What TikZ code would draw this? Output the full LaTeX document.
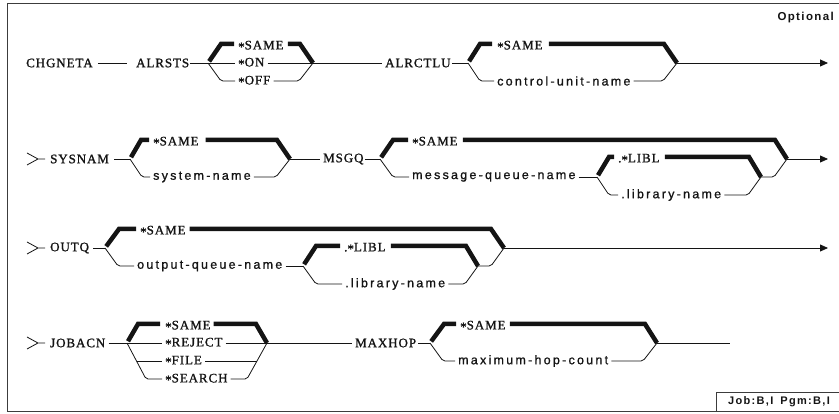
\documentclass[tikz,border=0pt]{standalone}
\usepackage{fontspec}
\usetikzlibrary{arrows.meta,calc}
\newfontfamily\kwfont[LetterSpace=7,FakeBold=1.2]{Liberation Serif}
\newfontfamily\valfont[LetterSpace=18,FakeBold=1]{Liberation Sans}
\newfontfamily\notefont[LetterSpace=12]{Liberation Sans}
\definecolor{inkblack}{RGB}{20,20,20}
\definecolor{framegray}{RGB}{60,60,60}
\newcommand{\kwstar}{\raisebox{-0.3ex}{*}}
\tikzset{
    % keywords: command, parameters, special values
    kw/.style={anchor=west, inner sep=0pt, text=inkblack,
        font=\kwfont\fontsize{13}{15}\selectfont},
    % user supplied values
    val/.style={anchor=west, inner sep=0pt, text=inkblack,
        font=\valfont\fontsize{12.5}{14}\selectfont},
    % notes in the corners
    note/.style={inner sep=0pt, text=inkblack,
        font=\notefont\bfseries\fontsize{11.5}{13}\selectfont},
    % paths of the diagram
    thinline/.style={line width=0.8pt, draw=inkblack, rounded corners=2pt},
    defline/.style={line width=4.5pt, draw=inkblack, line join=miter},
    endarrow/.style={line width=0.8pt, draw=inkblack, -{Triangle[length=8pt,width=7pt]}},
    contmark/.style={line width=0.8pt, draw=inkblack},
    framed/.style={line width=0.9pt, draw=framegray},
}

\begin{document}
\begin{tikzpicture}[x=1pt,y=-1pt]
  \useasboundingbox (0,0) rectangle (839,414);
  % frame
  \draw[framed] (842,3) -- (7,3) -- (7,411) -- (842,411);
  \node[note,anchor=east] (optional) at (834,18) {Optional};

  % ---- first line: CHGNETA ALRSTS ALRCTLU
  \node[kw] (chgneta) at (26,63) {CHGNETA};
  \node[kw] (alrsts) at (136,63) {ALRSTS};
  \draw[thinline] ([xshift=5pt]chgneta.east) -- ([xshift=-9pt]alrsts.west);
  \coordinate (s1) at (208,63);
  \coordinate (j1) at (313,63);
  \node[kw] (stsame) at (238,46) {\kwstar SAME};
  \node[kw] (ston) at (238,63) {\kwstar ON};
  \node[kw] (stoff) at (238,81) {\kwstar OFF};
  \draw[thinline] ([xshift=1pt]alrsts.east) -- (s1);
  \draw[defline] ($(s1)!2pt!(221,44)$) -- (221,44) -- ([shift={(-4pt,2pt)}]stsame.west);
  \draw[thinline] (s1) -- ([xshift=-3pt]ston.west);
  \draw[thinline] (s1) -- (221,81) -- ([xshift=-3pt]stoff.west);
  \draw[defline] ([shift={(4pt,2pt)}]stsame.east) -- (300,44) -- (j1);
  \draw[thinline] ([xshift=3pt]ston.east) -- (j1);
  \draw[thinline] ([xshift=3pt]stoff.east) -- (299,81) -- (j1);

  \node[kw] (alrctlu) at (385,63) {ALRCTLU};
  \draw[thinline] (j1) -- ([xshift=-3pt]alrctlu.west);
  \coordinate (s2) at (468,63);
  \coordinate (j2) at (677,63);
  \node[kw] (cusame) at (497,46) {\kwstar SAME};
  \node[val] (cuname) at (497,81) {control-unit-name};
  \draw[thinline] ([xshift=1pt]alrctlu.east) -- (s2);
  \draw[defline] ($(s2)!2pt!(480,44)$) -- (480,44) -- ([shift={(-5pt,2pt)}]cusame.west);
  \draw[thinline] (s2) -- (480,81) -- ([xshift=-3pt]cuname.west);
  \draw[defline] ([shift={(6pt,2pt)}]cusame.east) -- (664,44) -- (j2);
  \draw[thinline] ([xshift=3pt]cuname.east) -- (663,81) -- (j2);
  \coordinate (e1) at (828,63);
  \draw[endarrow] (j2) -- (e1);

  % ---- second line: SYSNAM MSGQ
  \draw[contmark] (27,153) -- (38,159) -- (27,165) (38,159) -- (45,159);
  \node[kw] (sysnam) at (50,159) {SYSNAM};
  \coordinate (s3) at (130,159);
  \coordinate (j3) at (290,159);
  \node[kw] (sysame) at (153,142) {\kwstar SAME};
  \node[val] (syname) at (153,177) {system-name};
  \draw[thinline] ([xshift=5pt]sysnam.east) -- (s3);
  \draw[defline] ($(s3)!2pt!(141,140)$) -- (141,140) -- ([shift={(-4pt,2pt)}]sysame.west);
  \draw[thinline] (s3) -- (142,177) -- ([xshift=-3pt]syname.west);
  \draw[defline] ([shift={(7pt,2pt)}]sysame.east) -- (277,140) -- (j3);
  \draw[thinline] ([xshift=3pt]syname.east) -- (276,177) -- (j3);

  \node[kw] (msgq) at (323,159) {MSGQ};
  \draw[thinline] (j3) -- ([xshift=-3pt]msgq.west);
  \coordinate (s4) at (380,159);
  \coordinate (j4) at (787,159);
  \node[kw] (mqsame) at (412,142) {\kwstar SAME};
  \node[val] (mqname) at (412,177) {message-queue-name};
  \draw[thinline] ([xshift=1pt]msgq.east) -- (s4);
  \draw[defline] ($(s4)!2pt!(393,140)$) -- (393,140) -- ([shift={(-4pt,2pt)}]mqsame.west);
  \draw[thinline] (s4) -- (393,177) -- ([xshift=-3pt]mqname.west);
  \coordinate (s5) at (597,177);
  \coordinate (j5) at (761,177);
  \node[kw] (mqlibl) at (618,159) {.\kwstar LIBL};
  \node[val] (mqlib) at (621,195) {.library-name};
  \draw[thinline] ([xshift=3pt]mqname.east) -- (s5);
  \draw[defline] ($(s5)!2pt!(609,157)$) -- (609,157) -- ([shift={(-4pt,2pt)}]mqlibl.west);
  \draw[thinline] (s5) -- (609,195) -- ([xshift=-3pt]mqlib.west);
  \draw[defline] ([shift={(5pt,2pt)}]mqlibl.east) -- (749,157) -- (j5);
  \draw[thinline] ([xshift=3pt]mqlib.east) -- (748,195) -- (j5);
  \draw[defline] ([shift={(5pt,2pt)}]mqsame.east) -- (775,140) -- (j4);
  \draw[thinline] (j5) -- (774,177) -- (j4);
  \coordinate (e2) at (828,159);
  \draw[endarrow] (j4) -- (e2);

  % ---- third line: OUTQ
  \draw[contmark] (27,242) -- (38,248) -- (27,254) (38,248) -- (45,248);
  \node[kw] (outq) at (50,248) {OUTQ};
  \coordinate (s6) at (105,248);
  \coordinate (j6) at (504,248);
  \node[kw] (oqsame) at (140,231) {\kwstar SAME};
  \node[val] (oqname) at (137,266) {output-queue-name};
  \draw[thinline] ([xshift=4pt]outq.east) -- (s6);
  \draw[defline] ($(s6)!2pt!(119,229)$) -- (119,229) -- ([shift={(-4pt,2pt)}]oqsame.west);
  \draw[thinline] (s6) -- (118,266) -- ([xshift=-3pt]oqname.west);
  \coordinate (s7) at (303,266);
  \coordinate (j7) at (478,266);
  \node[kw] (oqlibl) at (344,248) {.\kwstar LIBL};
  \node[val] (oqlib) at (345,284) {.library-name};
  \draw[thinline] ([xshift=3pt]oqname.east) -- (s7);
  \draw[defline] ($(s7)!2pt!(316,246)$) -- (316,246) -- ([shift={(-4pt,2pt)}]oqlibl.west);
  \draw[thinline] (s7) -- (316,284) -- ([xshift=-3pt]oqlib.west);
  \draw[defline] ([shift={(5pt,2pt)}]oqlibl.east) -- (466,246) -- (j7);
  \draw[thinline] ([xshift=3pt]oqlib.east) -- (465,284) -- (j7);
  \draw[defline] ([shift={(4pt,2pt)}]oqsame.east) -- (491,229) -- (j6);
  \draw[thinline] (j7) -- (491,266) -- (j6);
  \coordinate (e3) at (828,248);
  \draw[endarrow] (j6) -- (e3);

  % ---- fourth line: JOBACN MAXHOP
  \draw[contmark] (27,337) -- (38,343) -- (27,349) (38,343) -- (45,343);
  \node[kw] (jobacn) at (50,343) {JOBACN};
  \coordinate (s8) at (127,343);
  \coordinate (j8) at (267,343);
  \node[kw] (jasame) at (165,326) {\kwstar SAME};
  \node[kw] (jareject) at (165,343) {\kwstar REJECT};
  \node[kw] (jafile) at (165,361) {\kwstar FILE};
  \node[kw] (jasearch) at (165,379) {\kwstar SEARCH};
  \draw[thinline] ([xshift=3pt]jobacn.east) -- (s8);
  \draw[defline] ($(s8)!2pt!(138,324)$) -- (138,324) -- ([shift={(-5pt,2pt)}]jasame.west);
  \draw[thinline] (s8) -- ([xshift=-3pt]jareject.west);
  \coordinate (s8l) at (146,379);
  \coordinate (j8l) at (247,379);
  \draw[thinline] (s8) -- (s8l) -- ([xshift=-3pt]jasearch.west);
  \draw[thinline] ($(s8)!0.5!(s8l)$) -- ([xshift=-3pt]jafile.west);
  \draw[defline] ([shift={(3pt,2pt)}]jasame.east) -- (256,324) -- (j8);
  \draw[thinline] ([xshift=3pt]jareject.east) -- (j8);
  \draw[thinline] ([xshift=3pt]jasearch.east) -- (j8l) -- (j8);
  \draw[thinline] ([xshift=3pt]jafile.east) -- ($(j8l)!0.5!(j8)$);

  \node[kw] (maxhop) at (355,343) {MAXHOP};
  \draw[thinline] (j8) -- ([xshift=-3pt]maxhop.west);
  \coordinate (s9) at (430,343);
  \coordinate (j9) at (657,343);
  \node[kw] (mhsame) at (460,326) {\kwstar SAME};
  \node[val] (mhcount) at (458,361) {maximum-hop-count};
  \draw[thinline] ([xshift=2pt]maxhop.east) -- (s9);
  \draw[defline] ($(s9)!2pt!(444,324)$) -- (444,324) -- ([shift={(-4pt,2pt)}]mhsame.west);
  \draw[thinline] (s9) -- (443,361) -- ([xshift=-3pt]mhcount.west);
  \draw[defline] ([shift={(4pt,2pt)}]mhsame.east) -- (645,324) -- (j9);
  \draw[thinline] ([xshift=3pt]mhcount.east) -- (643,361) -- (j9);
  \coordinate (e4) at (730,343);
  \draw[thinline] (j9) -- (e4);

  % ---- job / program box
  \node[note,font=\notefont\bfseries\fontsize{11}{13}\selectfont,
        minimum width=124pt,minimum height=18pt] (jobpgm) at (779,402) {Job:B,I\hspace{7pt}Pgm:B,I};
  \draw[framed] (jobpgm.south west) -- (jobpgm.north west) -- (jobpgm.north east);
\end{tikzpicture}
\end{document}
